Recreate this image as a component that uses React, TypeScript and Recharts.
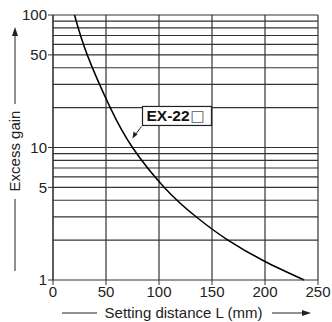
import {
  LineChart,
  Line,
  XAxis,
  YAxis,
  CartesianGrid,
  ReferenceLine,
  ReferenceDot,
} from "recharts";

// setting distance L (mm) and excess gain
const distance = [20.3, 32.3, 54, 75, 105, 135, 165, 200, 237];
const gain = [100, 50, 20, 10, 5, 3, 2, 1.38, 1];

const xTicks = [0, 50, 100, 150, 200, 250];
const yTicks = [1, 5, 10, 50, 100];
const gainGrid = [2, 3, 4, 5, 6, 7, 8, 9, 10, 20, 30, 40, 50, 60, 70, 80, 90, 100];

const seriesName = "EX-22";
const arrowAt = { x: 75, y: 11.7 };

const data = distance.map((d, i) => ({ distance: d, gain: gain[i] }));

const FONT = "'Liberation Sans', Arial, sans-serif";
const INK = "#222";
const GRID = "#333";

function SeriesTag(props: any) {
  const { cx, cy } = props;
  if (cx == null || cy == null) return null;
  const bx = cx + 10;
  const by = cy - 32;
  return (
    <g>
      <line x1={cx + 9} y1={cy - 12} x2={cx + 3} y2={cy - 4} stroke={INK} strokeWidth={1} />
      <polygon
        points={`${cx},${cy} ${cx + 1},${cy - 7} ${cx + 5},${cy - 4}`}
        fill={INK}
      />
      <rect x={bx} y={by} width={69} height={19} fill="#fff" stroke={INK} strokeWidth={1.2} />
      <text x={bx + 4} y={by + 15} fontFamily={FONT} fontSize={15.5} fill="#111">
        <tspan fontWeight="bold">{seriesName}</tspan>
        <tspan fontFamily="'DejaVu Sans', sans-serif" fontSize={15} fill="#555" dx={1}>
          □
        </tspan>
      </text>
    </g>
  );
}

function XTitle(props: any) {
  const { viewBox } = props;
  const cx = viewBox.x + viewBox.width / 2 - 2;
  const y = viewBox.y + 33;
  return (
    <g>
      <line x1={62} y1={y} x2={97} y2={y} stroke={INK} strokeWidth={1} />
      <text x={cx} y={y + 5} textAnchor="middle" fontFamily={FONT} fontSize={15} fill={INK}>
        Setting distance L (mm)
      </text>
      <line x1={272} y1={y} x2={305} y2={y} stroke={INK} strokeWidth={1} />
      <polygon points={`${311},${y} ${302},${y - 3} ${302},${y + 3}`} fill={INK} />
    </g>
  );
}

function YTitle() {
  const x = 15;
  const cy = 151;
  return (
    <g>
      <polygon points={`${x},${27} ${x - 3},${36} ${x + 3},${36}`} fill={INK} />
      <line x1={x} y1={33} x2={x} y2={104} stroke={INK} strokeWidth={1} />
      <text
        x={x + 5}
        y={cy}
        transform={`rotate(-90 ${x + 5} ${cy})`}
        textAnchor="middle"
        fontFamily={FONT}
        fontSize={15}
        fill={INK}
      >
        Excess gain
      </text>
      <line x1={x} y1={199} x2={x} y2={271} stroke={INK} strokeWidth={1} />
    </g>
  );
}

export default function App() {
  return (
    <div style={{ position: "absolute", left: 0, top: 0, background: "#fff" }}>
      <LineChart
        width={332}
        height={322}
        data={data}
        margin={{ top: 15, right: 14, bottom: 0, left: 0 }}
      >
        <CartesianGrid horizontal={false} stroke={GRID} strokeWidth={1.2} />
        {gainGrid.map((g) => (
          <ReferenceLine key={g} y={g} stroke={GRID} strokeWidth={1.2} />
        ))}
        <XAxis
          dataKey="distance"
          type="number"
          domain={[0, 250]}
          ticks={xTicks}
          height={42}
          tickSize={5}
          tickMargin={1}
          stroke={GRID}
          tick={{ fill: INK, fontSize: 15, fontFamily: FONT }}
          label={<XTitle />}
        />
        <YAxis
          dataKey="gain"
          scale="log"
          type="number"
          domain={[1, 100]}
          ticks={yTicks}
          width={53}
          tickSize={5}
          tickMargin={1}
          stroke={GRID}
          tick={{ fill: INK, fontSize: 15, fontFamily: FONT }}
          label={<YTitle />}
        />
        <Line
          dataKey="gain"
          type="natural"
          stroke="#000"
          strokeWidth={1.5}
          dot={false}
          isAnimationActive={false}
        />
        <ReferenceDot x={arrowAt.x} y={arrowAt.y} shape={<SeriesTag />} />
      </LineChart>
    </div>
  );
}
